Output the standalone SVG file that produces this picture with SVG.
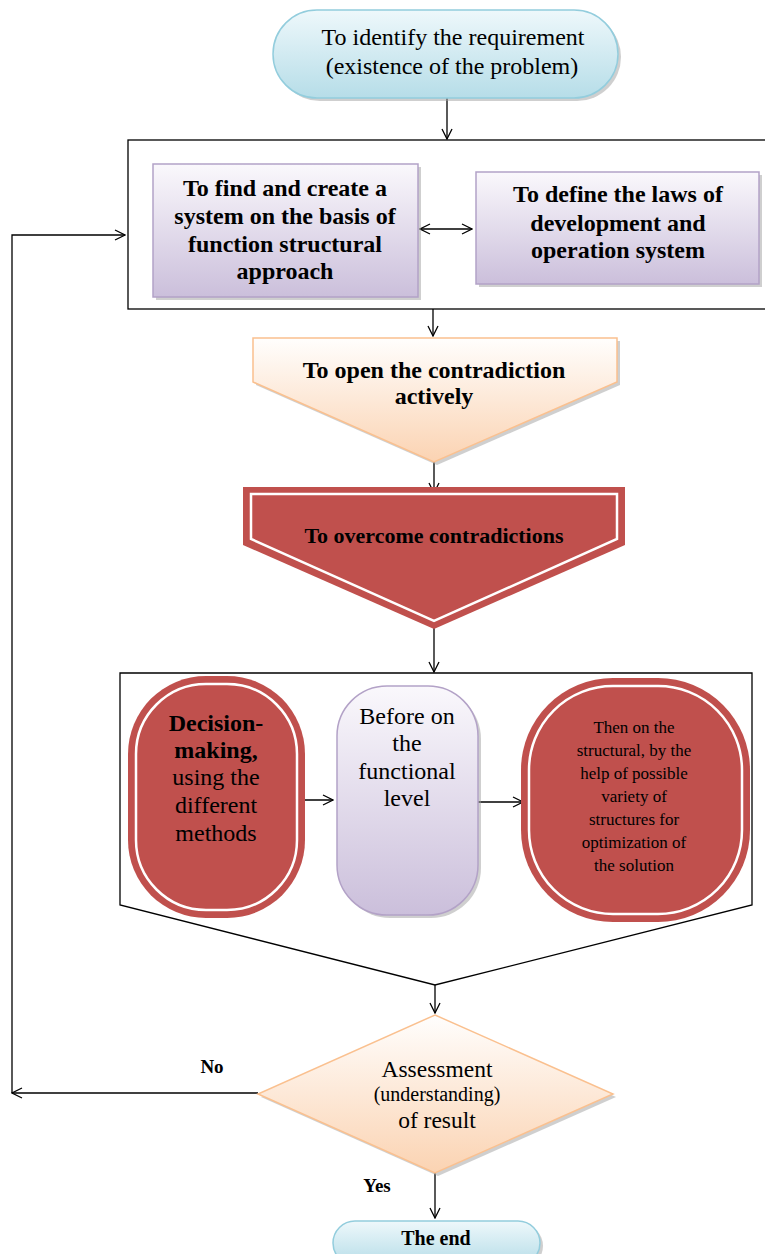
<svg xmlns="http://www.w3.org/2000/svg" width="765" height="1254" viewBox="0 0 765 1254">
<defs>
<linearGradient id="gCyan" x1="0" y1="0" x2="0" y2="1"><stop offset="0" stop-color="#eef8fb"/><stop offset="1" stop-color="#b6dde8"/></linearGradient>
<linearGradient id="gPurple" x1="0" y1="0" x2="0" y2="1"><stop offset="0" stop-color="#faf8fc"/><stop offset="1" stop-color="#cbbfdb"/></linearGradient>
<linearGradient id="gPeach" x1="0" y1="0" x2="0" y2="1"><stop offset="0" stop-color="#fffefd"/><stop offset="1" stop-color="#fbd3b2"/></linearGradient>
<marker id="ah" viewBox="0 0 12 12" refX="11" refY="6" markerWidth="12" markerHeight="12" markerUnits="userSpaceOnUse" orient="auto-start-reverse"><path d="M1,1 L11,6 L1,11" fill="none" stroke="#000" stroke-width="1.3"/></marker>
</defs>
<style>
.t{font-family:"Liberation Serif","Times New Roman",serif;fill:#000;text-anchor:middle}
.b{font-weight:bold}
.c{fill:none;stroke:#000;stroke-width:1.3}
.sh{fill:#a0a0a0;opacity:0.5}
.red{fill:#c0504d}
.wl{fill:none;stroke:#fff;stroke-width:2.5}
</style>
<rect width="765" height="1254" fill="#fff"/>

<g id="connectors">
<line class="c" x1="447" y1="98" x2="447" y2="139" marker-end="url(#ah)"/>
<line class="c" x1="420" y1="229" x2="472" y2="229" marker-start="url(#ah)" marker-end="url(#ah)"/>
<line class="c" x1="433" y1="309" x2="433" y2="336" marker-end="url(#ah)"/>
<line class="c" x1="434" y1="462" x2="434" y2="493" marker-end="url(#ah)"/>
<line class="c" x1="434" y1="626" x2="434" y2="672" marker-end="url(#ah)"/>
<line class="c" x1="293" y1="800" x2="333" y2="800" marker-end="url(#ah)"/>
<line class="c" x1="478" y1="802" x2="523" y2="802" marker-end="url(#ah)"/>
<line class="c" x1="435" y1="985" x2="435" y2="1013" marker-end="url(#ah)"/>
<line class="c" x1="435" y1="1173" x2="435" y2="1218" marker-end="url(#ah)"/>
<polyline class="c" points="258,1093 12,1093" marker-end="url(#ah)"/>
<polyline class="c" points="12,1093 12,235 125,235" marker-end="url(#ah)"/>
<text class="t b" x="212" y="1073" font-size="19">No</text>
<text class="t b" x="377" y="1192" font-size="19">Yes</text>
</g>

<g id="start">
<rect class="sh" x="276" y="13" width="345" height="88" rx="44"/>
<rect x="273" y="10" width="345" height="88" rx="44" fill="url(#gCyan)" stroke="#93cddd" stroke-width="1.5"/>
<text class="t" x="453" y="45" font-size="24">To identify the requirement</text>
<text class="t" x="452" y="74" font-size="24">(existence of the problem)</text>
</g>

<g id="group1">
<rect x="128" y="140" width="640" height="169" fill="none" stroke="#000" stroke-width="1.3"/>
</g>

<g id="find-system">
<rect class="sh" x="156" y="167" width="265" height="133"/>
<rect x="153" y="164" width="265" height="133" fill="url(#gPurple)" stroke="#b3a2c7" stroke-width="1.5"/>
<text class="t b" x="285" y="196" font-size="24">To find and create a</text>
<text class="t b" x="285" y="224" font-size="24">system on the basis of</text>
<text class="t b" x="285" y="252" font-size="24">function structural</text>
<text class="t b" x="285" y="279" font-size="24">approach</text>
</g>

<g id="define-laws">
<rect class="sh" x="479" y="175" width="283" height="112"/>
<rect x="476" y="172" width="283" height="112" fill="url(#gPurple)" stroke="#b3a2c7" stroke-width="1.5"/>
<text class="t b" x="618" y="202" font-size="24">To define the laws of</text>
<text class="t b" x="618" y="231" font-size="24">development and</text>
<text class="t b" x="618" y="258" font-size="24">operation system</text>
</g>

<g id="open-contradiction">
<polygon class="sh" points="256,341 620,341 620,385 437,465 256,385"/>
<polygon points="253,338 617,338 617,382 434,462 253,382" fill="url(#gPeach)" stroke="#fac08f" stroke-width="1.5"/>
<text class="t b" x="434" y="378" font-size="24">To open the contradiction</text>
<text class="t b" x="434" y="404" font-size="24">actively</text>
</g>

<g id="overcome">
<polygon class="red" points="243,487 625,487 625,545 434,629 243,545"/>
<polygon class="wl" points="251,494 617,494 617,539 434,621 251,539"/>
<text class="t b" x="434" y="543" font-size="22">To overcome contradictions</text>
</g>

<g id="group2">
<polygon points="120,673 752,673 752,905 435,985 120,905" fill="none" stroke="#000" stroke-width="1.3"/>
</g>

<g id="decision">
<rect class="red" x="128" y="676" width="177" height="242" rx="78"/>
<rect class="wl" x="136" y="684" width="161" height="226" rx="70"/>
<text class="t b" x="216" y="731" font-size="24">Decision-</text>
<text class="t b" x="216" y="758" font-size="24">making,</text>
<text class="t" x="216" y="785" font-size="24">using the</text>
<text class="t" x="216" y="813" font-size="24">different</text>
<text class="t" x="216" y="841" font-size="24">methods</text>
</g>

<g id="functional">
<rect class="sh" x="340" y="689" width="141" height="229" rx="50"/>
<rect x="337" y="686" width="141" height="229" rx="50" fill="url(#gPurple)" stroke="#b3a2c7" stroke-width="1.5"/>
<text class="t" x="407" y="724" font-size="24">Before on</text>
<text class="t" x="407" y="751" font-size="24">the</text>
<text class="t" x="407" y="779" font-size="24">functional</text>
<text class="t" x="407" y="806" font-size="24">level</text>
</g>

<g id="structural">
<rect class="red" x="521" y="678" width="229" height="244" rx="92"/>
<rect class="wl" x="529" y="686" width="213" height="228" rx="84"/>
<text class="t" x="634" y="733" font-size="17">Then on the</text>
<text class="t" x="634" y="756" font-size="17">structural, by the</text>
<text class="t" x="634" y="779" font-size="17">help of possible</text>
<text class="t" x="634" y="802" font-size="17">variety of</text>
<text class="t" x="634" y="825" font-size="17">structures for</text>
<text class="t" x="634" y="848" font-size="17">optimization of</text>
<text class="t" x="634" y="871" font-size="17">the solution</text>
</g>

<g id="assessment">
<polygon class="sh" points="438,1018 616,1097 438,1176 261,1097"/>
<polygon points="435,1015 613,1094 435,1173 258,1094" fill="url(#gPeach)" stroke="#fac08f" stroke-width="1.5"/>
<text class="t" x="437" y="1077" font-size="23.5">Assessment</text>
<text class="t" x="437" y="1101" font-size="20">(understanding)</text>
<text class="t" x="437" y="1128" font-size="23.5">of result</text>
</g>

<g id="end">
<rect class="sh" x="336" y="1224" width="207" height="44" rx="22"/>
<rect x="333" y="1221" width="207" height="44" rx="22" fill="url(#gCyan)" stroke="#93cddd" stroke-width="1.5"/>
<text class="t b" x="436" y="1245" font-size="20">The end</text>
</g>
</svg>
